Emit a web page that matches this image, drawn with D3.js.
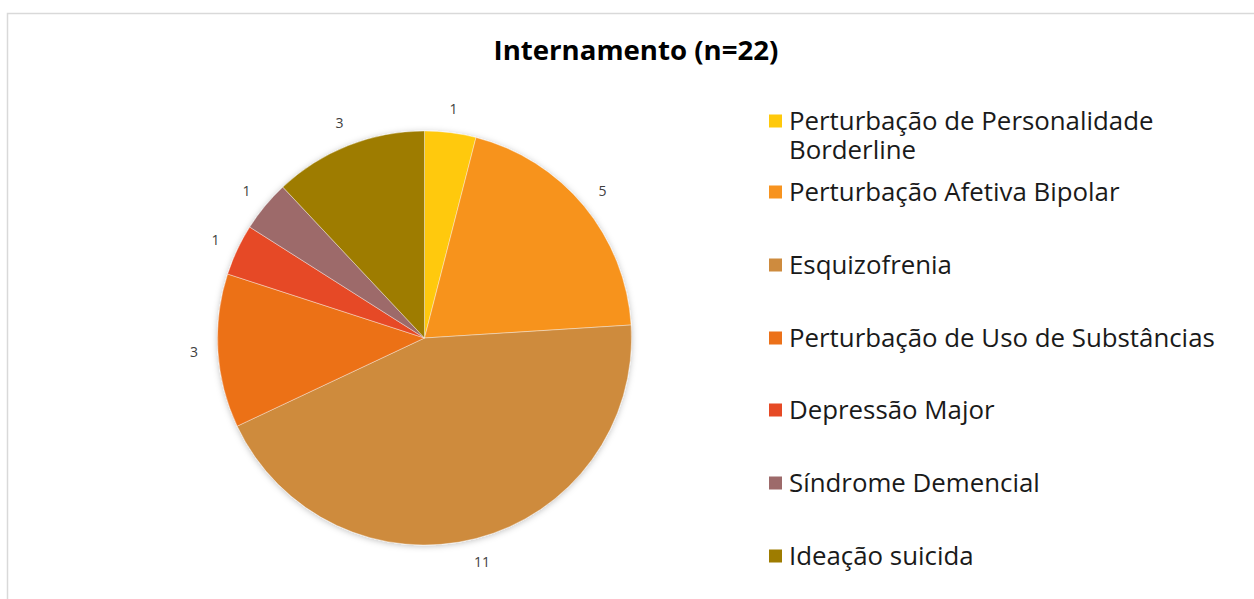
<!DOCTYPE html>
<html>
<head>
<meta charset="utf-8">
<script src="https://cdn.jsdelivr.net/npm/d3@7"></script>
<style>
  body { margin: 0; background: #fff; }
  svg { display: block; font-family: "Open Sans", "Noto Sans", sans-serif; }
</style>
</head>
<body>
<div id="chart"></div>
<script>
// data
const title = "Internamento (n=22)";
const categories = [
    "Perturbação de Personalidade Borderline",
    "Perturbação Afetiva Bipolar",
    "Esquizofrenia",
    "Perturbação de Uso de Substâncias",
    "Depressão Major",
    "Síndrome Demencial",
    "Ideação suicida"
];
const values = [1, 5, 11, 3, 1, 1, 3];
const colors = ["#FFC90B", "#F7931F", "#CE8B3E", "#EC7119", "#E64A25", "#9D6A6A", "#9E7C00"];
// legend labels split onto lines the way the reference wraps them
const legendLines = [
    ["Perturbação de Personalidade", "Borderline"],
    ["Perturbação Afetiva Bipolar"],
    ["Esquizofrenia"],
    ["Perturbação de Uso de Substâncias"],
    ["Depressão Major"],
    ["Síndrome Demencial"],
    ["Ideação suicida"]
];

const width = 1254, height = 599;
const cx = 424.5, cy = 338, radius = 207;

const svg = d3.select("#chart").append("svg")
    .attr("width", width)
    .attr("height", height);

// chart area border (runs off right and bottom edge)
svg.append("rect")
    .attr("x", 7.5).attr("y", 13.5)
    .attr("width", width).attr("height", height)
    .attr("fill", "#fff")
    .attr("stroke", "#D9D9D9")
    .attr("stroke-width", 1.5);

const defs = svg.append("defs");
const shadow = defs.append("filter").attr("id", "shadow")
    .attr("x", "-10%").attr("y", "-10%").attr("width", "120%").attr("height", "120%");
shadow.append("feDropShadow")
    .attr("dx", 0).attr("dy", 1)
    .attr("stdDeviation", 3)
    .attr("flood-color", "#000")
    .attr("flood-opacity", 0.25);

// title
const titleText = svg.append("text")
    .attr("x", 636).attr("y", 60)
    .attr("text-anchor", "middle")
    .attr("font-weight", "bold")
    .attr("fill", "#000")
    .attr("font-size", 24)
    .text(title);
// fit title to width seen in the reference
let tw = titleText.node().getComputedTextLength();
titleText.attr("font-size", 24 * 285 / tw);

// pie
const pie = d3.pie().sort(null).value(d => d)(values);
const arc = d3.arc().innerRadius(0).outerRadius(radius);
const labelArc = d3.arc().innerRadius(radius + 24).outerRadius(radius + 24);

const g = svg.append("g").attr("transform", `translate(${cx},${cy})`);

g.append("g")
    .attr("filter", "url(#shadow)")
    .selectAll("path")
    .data(pie)
    .join("path")
    .attr("d", arc)
    .attr("fill", (d, i) => colors[i])
    .attr("stroke", "#fff")
    .attr("stroke-opacity", 0.5)
    .attr("stroke-width", 0.75);

g.selectAll(".lbl")
    .data(pie)
    .join("text")
    .attr("class", "lbl")
    .attr("transform", d => `translate(${labelArc.centroid(d)})`)
    .attr("text-anchor", "middle")
    .attr("dy", "0.35em")
    .attr("font-size", 14)
    .attr("fill", "#404040")
    .text(d => d.data);

// legend
const rowY = [121, 192, 265, 338, 410, 483, 556];
const legend = svg.append("g");
const items = legend.selectAll("g")
    .data(categories)
    .join("g")
    .attr("transform", (d, i) => `translate(769,${rowY[i]})`);

items.append("rect")
    .attr("x", 0).attr("y", -6.5)
    .attr("width", 13).attr("height", 13)
    .attr("fill", (d, i) => colors[i]);

const texts = items.append("text")
    .attr("x", 20)
    .attr("fill", "#1a1a1a")
    .attr("font-size", 23);

texts.selectAll("tspan")
    .data((d, i) => legendLines[i])
    .join("tspan")
    .attr("x", 20)
    .attr("y", (d, j) => j * 29)
    .attr("dy", "0.35em")
    .text(d => d);

// scale legend font so the longest label spans like in the reference
const longest = texts.filter((d, i) => i === 3).node().getComputedTextLength();
texts.attr("font-size", 23 * 426 / longest);
</script>
</body>
</html>
